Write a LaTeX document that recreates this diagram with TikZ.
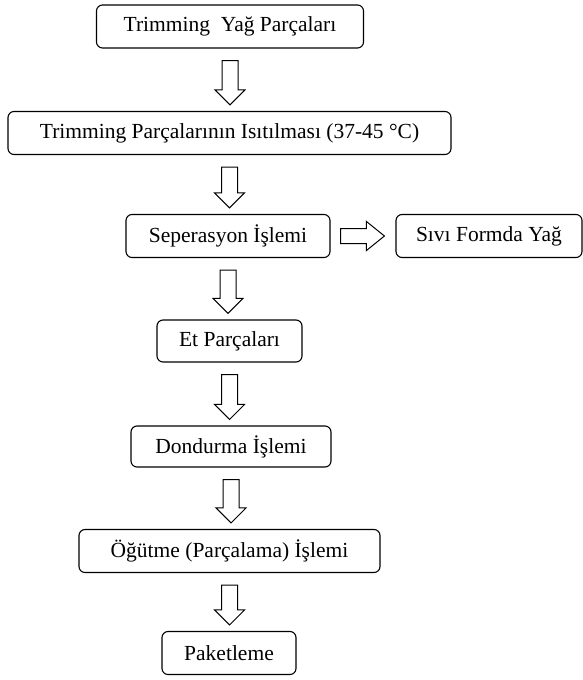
\documentclass[tikz,border=0pt]{standalone}
\usepackage{fontspec}
\setmainfont{Liberation Serif}
\usetikzlibrary{calc}
\tikzset{
  every picture/.style={line width=1.1pt},
  stepbox/.style={draw, rounded corners=6pt, align=center, inner sep=0pt, minimum height=43pt, font=\fontsize{21.5}{26}\selectfont},
  hollow/.style={draw, line width=1pt, fill=white, line join=miter},
}
\newcommand{\fatdown}[2]{%
  \draw[hollow] let \p1=(#1.south), \p2=(#2.north) in
    (\x1-8pt,\y1-12pt) -- (\x1-8pt,\y2+21pt) -- (\x1-15pt,\y2+21pt) -- (\x1,\y2+6pt)
    -- (\x1+15pt,\y2+21pt) -- (\x1+8pt,\y2+21pt) -- (\x1+8pt,\y1-12pt) -- cycle;}
\newcommand{\fatright}[2]{%
  \draw[hollow] let \p1=(#1.east), \p2=(#2.west) in
    (\x1+10pt,\y1+7.5pt) -- (\x2-29pt,\y1+7.5pt) -- (\x2-29pt,\y1+14.5pt) -- (\x2-11pt,\y1)
    -- (\x2-29pt,\y1-14.5pt) -- (\x2-29pt,\y1-7.5pt) -- (\x1+10pt,\y1-7.5pt) -- cycle;}

\begin{document}
\begin{tikzpicture}[x=1pt, y=-1pt]
  \useasboundingbox (0,0) rectangle (583,680);
  \node[stepbox, minimum width=267pt] (trim) at (230,26.5) {Trimming~ Yağ Parçaları};
  \node[stepbox, minimum width=443pt] (heat) at (229.5,133) {Trimming Parçalarının Isıtılması (37-45 °C)};
  \node[stepbox, minimum width=204pt] (sep) at (228,236) {Seperasyon İşlemi};
  \node[stepbox, minimum width=186pt] (oil) at (489,236) {Sıvı Formda Yağ};
  \node[stepbox, minimum width=145pt, minimum height=42pt] (meat) at (229.5,341) {Et Parçaları};
  \node[stepbox, minimum width=200pt, minimum height=41pt] (freeze) at (231,446.5) {Dondurma İşlemi};
  \node[stepbox, minimum width=301pt] (grind) at (229.5,551) {Öğütme (Parçalama) İşlemi};
  \node[stepbox, minimum width=134pt] (pack) at (229,653) {Paketleme};
  \fatdown{trim}{heat}
  \fatdown{heat}{sep}
  \fatright{sep}{oil}
  \fatdown{sep}{meat}
  \fatdown{meat}{freeze}
  \fatdown{freeze}{grind}
  \fatdown{grind}{pack}
\end{tikzpicture}
\end{document}
